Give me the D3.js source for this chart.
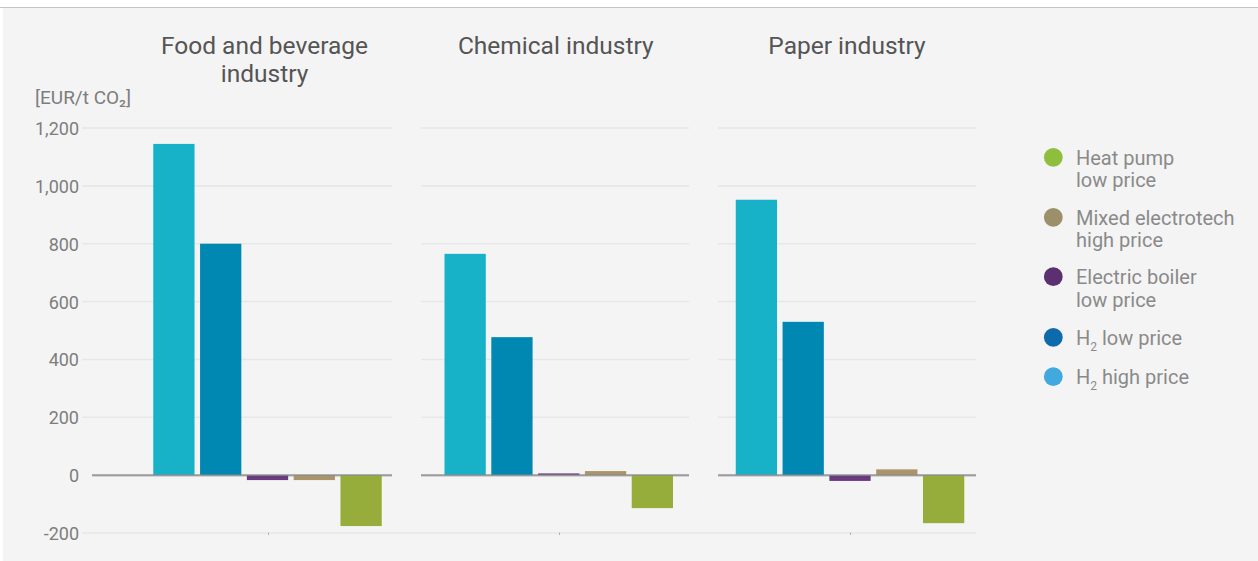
<!DOCTYPE html>
<html>
<head>
<meta charset="utf-8">
<script src="https://cdn.jsdelivr.net/npm/d3@7"></script>
<style>
  html, body { margin: 0; padding: 0; background: #ffffff; }
  svg { display: block; font-family: Roboto, "Noto Sans", sans-serif; }
</style>
</head>
<body>
<svg id="chart" width="1258" height="561"></svg>
<script>
// Industry sectors (one panel each)
const categories = ["Food and beverage industry", "Chemical industry", "Paper industry"];
const titleLines = [["Food and beverage", "industry"], ["Chemical industry"], ["Paper industry"]];

// Technology options, in bar order (left to right inside each panel)
const seriesKeys = ["h2High", "h2Low", "boilerLow", "mixedHigh", "heatPumpLow"];
const seriesLabels = {
  h2High: ["H|2| high price"],
  h2Low: ["H|2| low price"],
  boilerLow: ["Electric boiler", "low price"],
  mixedHigh: ["Mixed electrotech", "high price"],
  heatPumpLow: ["Heat pump", "low price"]
};

// Abatement cost per option, one value per sector [EUR/t CO2]
const h2High      = [1145, 765, 952];
const h2Low       = [800, 477, 530];
const boilerLow   = [-17, 6, -20];
const mixedHigh   = [-17, 14, 20];
const heatPumpLow = [-176, -114, -166];
const seriesValues = { h2High, h2Low, boilerLow, mixedHigh, heatPumpLow };

// Axis ticks
const yTicks = [-200, 0, 200, 400, 600, 800, 1000, 1200];
const yUnit = "[EUR/t CO\u2082]";

// Colours for bars and for the legend dots
const barColors = {
  h2High: "#17b2c8", h2Low: "#0088b2", boilerLow: "#693b7e",
  mixedHigh: "#ab946a", heatPumpLow: "#96ac3b"
};
const legendColors = {
  h2High: "#41a9dd", h2Low: "#0f6aab", boilerLow: "#5b2f70",
  mixedHigh: "#9b9069", heatPumpLow: "#8dbe3e"
};

const svg = d3.select("#chart");

// background panel and top rule
svg.append("rect").attr("x", 3).attr("y", 8).attr("width", 1255).attr("height", 553).attr("fill", "#f4f4f4");
svg.append("line").attr("x1", 0).attr("x2", 1258).attr("y1", 7.5).attr("y2", 7.5)
  .attr("stroke", "#c4c4c4").attr("stroke-width", 1);

// scales
const y = d3.scaleLinear().domain([-200, 1200]).range([533, 128]);
const xPanel = d3.scalePoint().domain(categories).range([267.5, 850]);
const xBar = d3.scaleBand().domain(seriesKeys).range([-114.25, 114.25]).paddingInner(0.118).paddingOuter(0);

// horizontal extent of each panel's grid
const panelLeft = [82, 421, 718];
const panelRight = [392, 689, 976];
const zeroLeft = [92, 421, 718];

// gridlines per panel
categories.forEach((c, i) => {
  svg.append("g").selectAll("line")
    .data(yTicks.filter(t => t > 0))
    .join("line")
    .attr("x1", panelLeft[i]).attr("x2", panelRight[i])
    .attr("y1", d => y(d)).attr("y2", d => y(d))
    .attr("stroke", "#e6e8e8").attr("stroke-width", 1.6);
});

// bottom axis line across all panels with category ticks
svg.append("line")
  .attr("x1", panelLeft[0]).attr("x2", panelRight[2])
  .attr("y1", y(-200)).attr("y2", y(-200))
  .attr("stroke", "#e6e8e8").attr("stroke-width", 1.6);
svg.selectAll("line.cattick")
  .data(categories)
  .join("line")
  .attr("class", "cattick")
  .attr("x1", d => Math.round(xPanel(d)) + 0.5).attr("x2", d => Math.round(xPanel(d)) + 0.5)
  .attr("y1", y(-200) - 0.5).attr("y2", y(-200) + 2)
  .attr("stroke", "#b0b0b0").attr("stroke-width", 1);

// y-axis labels
const fmt = d3.format(",");
const yAxis = d3.axisLeft(y).tickValues(yTicks).tickSize(0).tickPadding(0)
  .tickFormat(d => fmt(d).replace("\u2212", "-"));
const yg = svg.append("g").attr("transform", "translate(79,0)").call(yAxis);
yg.select(".domain").remove();
yg.selectAll("text")
  .attr("fill", "#7d7d7d")
  .attr("font-size", 18)
  .attr("font-family", "Roboto, sans-serif")
  .attr("dy", "0.36em");

svg.append("text")
  .attr("x", 35).attr("y", 104)
  .attr("fill", "#7d7d7d").attr("font-size", 19)
  .text(yUnit);

// light band under the zero baselines
categories.forEach((c, i) => {
  svg.append("line")
    .attr("x1", zeroLeft[i]).attr("x2", panelRight[i])
    .attr("y1", y(0) + 0.3).attr("y2", y(0) + 0.3)
    .attr("stroke", "#d4d4d4").attr("stroke-width", 3);
});

// bars
categories.forEach((c, i) => {
  const cx = xPanel(c);
  svg.append("g").selectAll("rect")
    .data(seriesKeys)
    .join("rect")
    .attr("x", k => cx + xBar(k))
    .attr("width", xBar.bandwidth())
    .attr("y", k => y(Math.max(0, seriesValues[k][i])))
    .attr("height", k => Math.abs(y(seriesValues[k][i]) - y(0)))
    .attr("fill", k => barColors[k]);
});

// zero baselines per panel
categories.forEach((c, i) => {
  svg.append("line")
    .attr("x1", zeroLeft[i]).attr("x2", panelRight[i])
    .attr("y1", y(0)).attr("y2", y(0))
    .attr("stroke", "#8a8a8a").attr("stroke-width", 1.1);
});

// panel titles
categories.forEach((c, i) => {
  const t = svg.append("text")
    .attr("text-anchor", "middle")
    .attr("fill", "#555555")
    .attr("font-size", 24.5);
  titleLines[i].forEach((line, j) => {
    t.append("tspan")
      .attr("x", xPanel(c) - 3)
      .attr("y", 54 + j * 27.5)
      .text(line);
  });
});

// legend (listed in reverse bar order)
const legendKeys = seriesKeys.slice().reverse();
const legendY = [157.3, 217.3, 276.7, 337.3, 376.7];
legendKeys.forEach((k, i) => {
  const g = svg.append("g");
  g.append("circle")
    .attr("cx", 1053.3).attr("cy", legendY[i]).attr("r", 9.4)
    .attr("fill", legendColors[k]);
  const t = g.append("text")
    .attr("fill", "#8a8a8a")
    .attr("font-size", 20);
  seriesLabels[k].forEach((line, j) => {
    const ts = t.append("tspan")
      .attr("x", 1076)
      .attr("y", legendY[i] + 7.5 + j * 22.3);
    // segments between '|' are written as a subscript; the following
    // segment steps back up to the baseline
    let shift = 0;
    line.split("|").forEach((part, p) => {
      if (!part) return;
      if (p % 2 === 1) {
        ts.append("tspan").attr("font-size", 12).attr("dy", 6).text(part);
        shift = -6;
      } else {
        ts.append("tspan").attr("dy", shift).text(part);
        shift = 0;
      }
    });
  });
});
</script>
</body>
</html>
